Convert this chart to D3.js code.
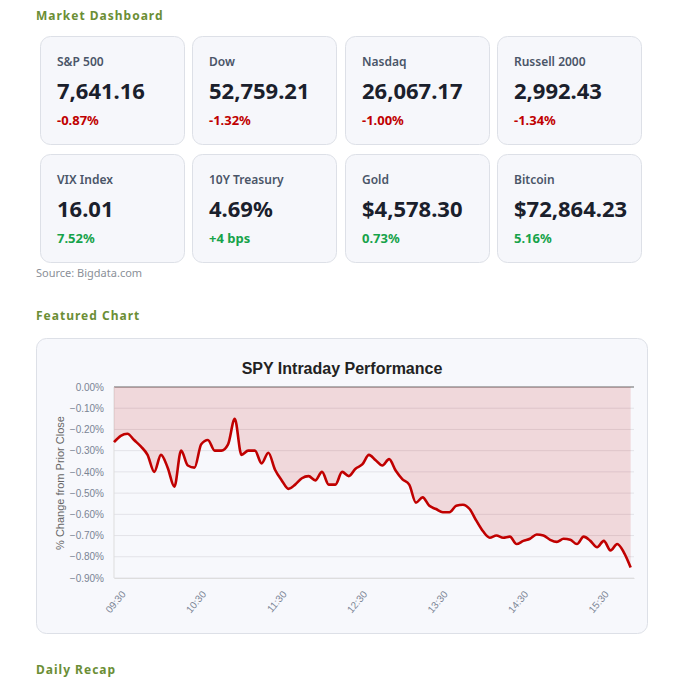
<!DOCTYPE html>
<html><head><meta charset="utf-8">
<script src="https://cdn.jsdelivr.net/npm/d3@7"></script>
<style>body{margin:0;background:#fff;}svg{display:block}</style>
</head><body><svg id="c" width="682" height="692"></svg>
<script>
const cardLabels=["S&P 500","Dow","Nasdaq","Russell 2000","VIX Index","10Y Treasury","Gold","Bitcoin"];
const cardValues=["7,641.16","52,759.21","26,067.17","2,992.43","16.01","4.69%","$4,578.30","$72,864.23"];
const cardChanges=["-0.87%","-1.32%","-1.00%","-1.34%","7.52%","+4 bps","0.73%","5.16%"];
const cardUp=[false,false,false,false,true,true,true,true];
const timeLabels=["09:30","10:30","11:30","12:30","13:30","14:30","15:30"];
const yTicks=[0,-0.1,-0.2,-0.3,-0.4,-0.5,-0.6,-0.7,-0.8,-0.9];
const spy=[-0.26,-0.23,-0.22,-0.25,-0.28,-0.32,-0.40,-0.32,-0.38,-0.47,-0.30,-0.37,-0.38,-0.27,-0.25,-0.30,-0.30,-0.27,-0.15,-0.32,-0.30,-0.30,-0.36,-0.31,-0.39,-0.44,-0.48,-0.46,-0.43,-0.42,-0.44,-0.40,-0.46,-0.46,-0.40,-0.42,-0.385,-0.365,-0.32,-0.345,-0.37,-0.34,-0.395,-0.435,-0.46,-0.545,-0.52,-0.56,-0.575,-0.59,-0.59,-0.56,-0.555,-0.575,-0.63,-0.68,-0.71,-0.70,-0.71,-0.705,-0.74,-0.725,-0.715,-0.695,-0.70,-0.72,-0.73,-0.715,-0.72,-0.74,-0.705,-0.725,-0.755,-0.725,-0.77,-0.74,-0.78,-0.85];

const svg=d3.select("#c");
const F="'Noto Sans', sans-serif";
function header(t,y){svg.append("text").attr("x",36).attr("y",y).text(t).attr("font-family",F).attr("font-weight",700).attr("font-size",12).attr("letter-spacing","1px").attr("fill","#6b8e35");}
header("Market Dashboard",20);
const cx=[40,192,345,497];
cardLabels.forEach((l,i)=>{
  const g=svg.append("g").attr("transform",`translate(${cx[i%4]},${i<4?36:154})`);
  g.append("rect").attr("x",0.5).attr("y",0.5).attr("width",144).attr("height",108).attr("rx",10).attr("fill","#f6f7fb").attr("stroke","#dde0e7");
  g.append("text").attr("x",17).attr("y",30).text(l).attr("font-family",F).attr("font-weight",600).attr("font-size",12).attr("fill","#4a5568");
  g.append("text").attr("x",17).attr("y",63).text(cardValues[i]).attr("font-family",F).attr("font-weight",700).attr("font-size",22).attr("fill","#1a202c");
  g.append("text").attr("x",17).attr("y",89).text(cardChanges[i]).attr("font-family",F).attr("font-weight",700).attr("font-size",13).attr("fill",cardUp[i]?"#16a34a":"#c00000");
});
svg.append("text").attr("x",36).attr("y",277).text("Source: Bigdata.com").attr("font-family",F).attr("font-size",11).attr("fill","#8a8f98");
header("Featured Chart",320);
svg.append("rect").attr("x",36.5).attr("y",338.5).attr("width",611).attr("height",295).attr("rx",10).attr("fill","#f7f8fc").attr("stroke","#dde0e7");
svg.append("text").attr("x",342).attr("y",374).attr("text-anchor","middle").text("SPY Intraday Performance").attr("font-family","'Liberation Sans', Arial").attr("font-weight",700).attr("font-size",16).attr("fill","#222");

const x=d3.scaleLinear().domain([0,77.5]).range([114,634]);
const y=d3.scaleLinear().domain([-0.9,0]).range([578,387]);
const grid=svg.append("g");
yTicks.forEach(t=>grid.append("line").attr("x1",114).attr("x2",634).attr("y1",y(t)).attr("y2",y(t)).attr("stroke",t===0?"#666":"#e3e3e8").attr("stroke-width",1));
svg.append("line").attr("x1",114).attr("x2",114).attr("y1",387).attr("y2",578).attr("stroke","#ddd");
const yAx=svg.append("g").attr("transform","translate(114,0)").call(d3.axisLeft(y).tickValues(yTicks).tickFormat(d=>d3.format(".2f")(Math.abs(d)<1e-9?0:d)+"%").tickSize(0).tickPadding(10));
yAx.select(".domain").remove();
yAx.selectAll("text").attr("font-family","'Liberation Sans', Arial").attr("font-size",10).attr("fill","#7a8494");
const xAx=svg.append("g").attr("transform","translate(0,578)").call(d3.axisBottom(x).tickValues(timeLabels.map((d,i)=>i*12)).tickFormat((d,i)=>timeLabels[i]).tickSize(0));
xAx.select(".domain").attr("stroke","#ddd");
xAx.selectAll("text").attr("font-family","'Liberation Sans', Arial").attr("font-size",10).attr("fill","#7a8494").attr("text-anchor","end").attr("transform","translate(4,10) rotate(-50)");
svg.append("text").attr("transform","translate(64,483) rotate(-90)").attr("text-anchor","middle").text("% Change from Prior Close").attr("font-family","'Liberation Sans', Arial").attr("font-size",11).attr("fill","#666");
const curve=d3.curveMonotoneX;
svg.append("path").datum(spy).attr("d",d3.area().x((d,i)=>x(i)).y0(y(0)).y1(d=>y(d)).curve(curve)).attr("fill","rgba(192,0,0,0.13)");
svg.append("path").datum(spy).attr("d",d3.line().x((d,i)=>x(i)).y(d=>y(d)).curve(curve)).attr("fill","none").attr("stroke","#c00000").attr("stroke-width",2.6);
header("Daily Recap",674);
</script></body></html>
